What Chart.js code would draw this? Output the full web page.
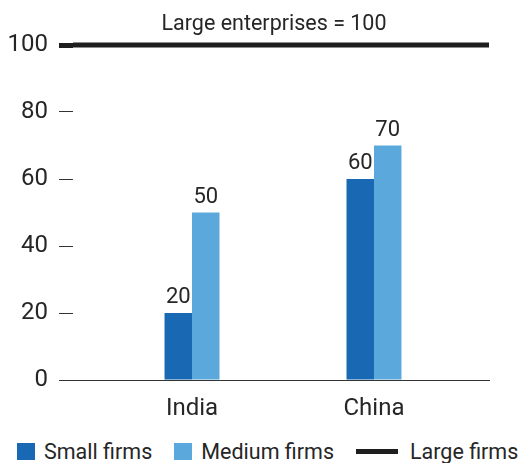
<!DOCTYPE html>
<html>
<head>
<meta charset="utf-8">
<script src="https://cdn.jsdelivr.net/npm/chart.js@4.4.1/dist/chart.umd.min.js"></script>
<style>
  html, body { margin: 0; padding: 0; background: #fff; overflow: hidden; }
  #wrap { position: relative; width: 524px; height: 432px; }
  #legend {
    display: flex; align-items: center; height: 24px; padding: 7px 0 0 17px;
    font: 21.5px Roboto, sans-serif; color: #262626; white-space: nowrap;
  }
  #legend .item { display: flex; align-items: center; flex-shrink: 0; }
  #legend .item + .item { margin-left: 22px; }
  #legend .swatch { width: 18px; height: 17px; margin-right: 9px; }
  #legend .rule { width: 42px; height: 5px; margin-right: 12px; }
</style>
</head>
<body>
<div id="wrap"><canvas id="firmsChart"></canvas></div>
<div id="legend"></div>
<script>
// Productivity relative to large enterprises
const countries = ['India', 'China'];
const smallFirms = [20, 60];
const mediumFirms = [50, 70];
const largeFirms = 100;
const yTicks = [0, 20, 40, 60, 80, 100];

const seriesNames = ['Small firms', 'Medium firms', 'Large firms'];
const seriesColors = ['#1868b3', '#5ba9dc', '#1e1e1e'];
const TEXT = '#262626';

// x runs on a linear scale so the country groups sit off-centre like the print layout
const X_MIN = 0.346;
const X_MAX = 2.632;

document.addEventListener('DOMContentLoaded', () => {
    // value labels on the bars and the caption above the reference line
    const labelPlugin = {
        id: 'labelPlugin',
        afterDatasetsDraw(chart) {
            const ctx = chart.ctx;
            ctx.save();
            ctx.fillStyle = TEXT;
            ctx.textAlign = 'center';
            ctx.textBaseline = 'alphabetic';
            ctx.font = '22px Roboto';
            chart.data.datasets.forEach((ds, i) => {
                if (ds.type === 'line') return;
                chart.getDatasetMeta(i).data.forEach((bar, j) => {
                    ctx.fillText(String(ds.data[j].y), bar.x, bar.y - 10);
                });
            });

            const y = chart.scales.y;
            const left = y.right - y.options.grid.tickLength;
            const mid = (left + chart.chartArea.right) / 2;
            ctx.font = '21.5px Roboto';
            ctx.fillText('Large enterprises = ' + largeFirms, mid, y.getPixelForValue(largeFirms) - 15);
            ctx.restore();
        }
    };

    const ctx = document.getElementById('firmsChart').getContext('2d');

    const chart = new Chart(ctx, {
        type: 'bar',
        data: {
            datasets: [{
                label: seriesNames[0],
                data: smallFirms.map((v, i) => ({ x: i + 1, y: v })),
                backgroundColor: seriesColors[0],
                categoryPercentage: 0.302,
                barPercentage: 1.0
            }, {
                label: seriesNames[1],
                data: mediumFirms.map((v, i) => ({ x: i + 1, y: v })),
                backgroundColor: seriesColors[1],
                categoryPercentage: 0.302,
                barPercentage: 1.0
            }, {
                type: 'line',
                label: seriesNames[2],
                data: [{ x: X_MIN, y: largeFirms }, { x: X_MAX, y: largeFirms }],
                borderColor: seriesColors[2],
                borderWidth: 5,
                borderCapStyle: 'butt',
                pointRadius: 0,
                clip: false
            }]
        },
        options: {
            responsive: true,
            maintainAspectRatio: false,
            animation: false,
            layout: { padding: { top: 45, right: 35, left: 0, bottom: 0 } },
            plugins: {
                legend: { display: false },
                tooltip: { enabled: false }
            },
            scales: {
                x: {
                    type: 'linear',
                    min: X_MIN,
                    max: X_MAX,
                    offset: false,
                    afterBuildTicks: (scale) => {
                        scale.ticks = countries.map((_, i) => ({ value: i + 1 }));
                    },
                    afterFit: (scale) => { scale.height = 52; },
                    grid: { display: false },
                    border: { display: true, color: '#333', width: 1 },
                    ticks: {
                        padding: 7,
                        maxRotation: 0,
                        color: TEXT,
                        font: { family: 'Roboto', size: 24 },
                        callback: (value) => countries[value - 1] || ''
                    }
                },
                y: {
                    min: 0,
                    max: largeFirms,
                    afterBuildTicks: (scale) => {
                        scale.ticks = yTicks.map(v => ({ value: v }));
                    },
                    afterFit: (scale) => { scale.width = 73; },
                    border: { display: false },
                    grid: {
                        drawOnChartArea: false,
                        drawTicks: true,
                        tickLength: 14,
                        tickColor: (c) => c.tick.value === largeFirms ? seriesColors[2] : '#333',
                        tickWidth: (c) => c.tick.value === largeFirms ? 5 : 1
                    },
                    ticks: {
                        padding: 11,
                        color: TEXT,
                        font: { family: 'Roboto', size: 24 }
                    }
                }
            }
        },
        plugins: [labelPlugin]
    });

    // legend below the plot, built from the series
    const legend = document.getElementById('legend');
    chart.data.datasets.forEach((ds, i) => {
        const item = document.createElement('div');
        item.className = 'item';
        const mark = document.createElement('span');
        mark.className = ds.type === 'line' ? 'rule' : 'swatch';
        mark.style.background = seriesColors[i];
        const text = document.createElement('span');
        text.textContent = ds.label;
        item.appendChild(mark);
        item.appendChild(text);
        legend.appendChild(item);
    });
});
</script>
</body>
</html>
